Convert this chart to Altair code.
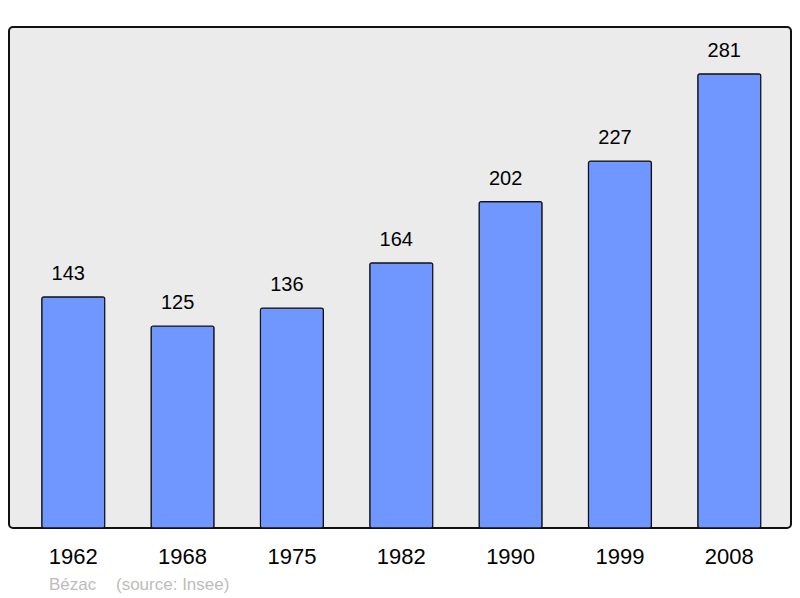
import altair as alt
import pandas as pd

years = ["1962", "1968", "1975", "1982", "1990", "1999", "2008"]
population = [143, 125, 136, 164, 202, 227, 281]
commune = "Bézac"
source = "(source: Insee)"

df = pd.DataFrame({"year": years, "pop": population})

x = alt.X("year:N", sort=years, title=None,
          scale=alt.Scale(paddingInner=0.424, paddingOuter=0.288, align=0.52),
          axis=alt.Axis(labelAngle=0, ticks=False, domain=False, labelPadding=18,
                        labelFontSize=22, labelFont="Liberation Sans", labelColor="#000"))
y = alt.Y("pop:Q", scale=alt.Scale(domain=[0, 310], nice=False), axis=None, title=None)

bars = alt.Chart(df).mark_bar(color="#7096ff", stroke="#111", strokeWidth=1.2,
                              cornerRadius=2).encode(x=x, y=y)
labels = alt.Chart(df).mark_text(baseline="bottom", dy=-13, dx=-5, fontSize=20,
                                 font="Liberation Sans", color="#000").encode(
    x=x, y=y, text="pop:Q")

foot1 = alt.Chart(pd.DataFrame({"t": [commune]})).mark_text(
    align="left", baseline="middle", fontSize=17, font="Liberation Sans",
    color="#bcbcbc").encode(x=alt.value(40), y=alt.value(558), text="t:N")
foot2 = alt.Chart(pd.DataFrame({"t": [source]})).mark_text(
    align="left", baseline="middle", fontSize=17, font="Liberation Sans",
    color="#bcbcbc").encode(x=alt.value(107), y=alt.value(558), text="t:N")

chart = (bars + labels + foot1 + foot2).properties(
    width=782, height=501,
    padding={"left": 1, "top": 19, "right": 1, "bottom": 70},
    autosize=alt.AutoSizeParams(type="none"),
    background="#ffffff",
).configure_view(
    fill="#ebebeb", stroke="#111", strokeWidth=2, cornerRadius=4
)

chart.save("out.html", embed_options={"renderer": "svg", "actions": False})
